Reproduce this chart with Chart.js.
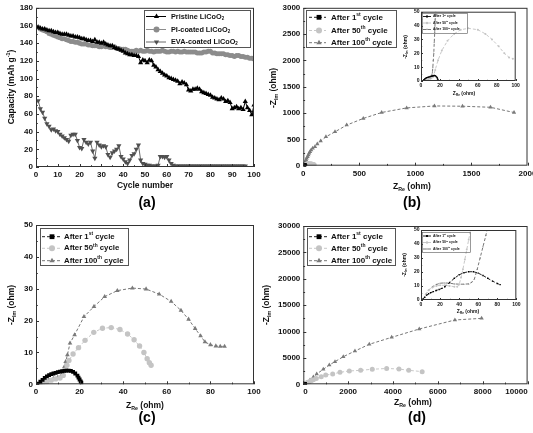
<!DOCTYPE html>
<html>
<head>
<meta charset="utf-8">
<script src="https://cdn.jsdelivr.net/npm/chart.js@4.4.1/dist/chart.umd.min.js"></script>
<style>
  body { margin: 0; width: 533px; height: 433px; position: relative; overflow: hidden; background: #fff; font-family: "Liberation Sans", Arial, sans-serif; }
  canvas { position: absolute; }
  .cap { position: absolute; font-weight: bold; font-size: 14px; transform: translate(-50%, -50%); }
</style>
</head>
<body>
<canvas id="ca"></canvas>
<canvas id="cb"></canvas>
<canvas id="cc"></canvas>
<canvas id="cd"></canvas>
<canvas id="cbi"></canvas>
<canvas id="cdi"></canvas>
<div class="cap" style="left:147px;top:202px">(a)</div>
<div class="cap" style="left:412px;top:202px">(b)</div>
<div class="cap" style="left:147px;top:417px">(c)</div>
<div class="cap" style="left:417px;top:417px">(d)</div>
<script>
const FONT = '"Liberation Sans", Arial, sans-serif';

// (a) capacity vs cycle number
const cycles = Array.from({ length: 100 }, (_, i) => i + 1);
const pristine = [
  158, 157, 156, 156, 155, 154, 154, 153, 152, 152,
  151, 150, 150, 150, 149, 148, 148, 147, 147, 146,
  145, 145, 144, 143, 143, 142, 144, 141, 141, 140,
  141, 139, 138, 137, 137, 135, 134, 133, 132, 131,
  129, 128, 127, 127, 126, 126, 125, 118, 121, 120,
  118, 121, 120, 115, 113, 110, 108, 106, 104, 103,
  101, 100, 99, 98, 97, 94, 96, 95, 93, 87,
  86, 88, 88, 89, 88, 85, 84, 83, 82, 81,
  79, 78, 77, 76, 78, 77, 74, 75, 73, 66,
  67, 68, 66, 67, 65, 74, 67, 64, 59, 70
];
const piCoated = [
  158, 156, 155, 154, 153, 151, 150, 149, 148, 147,
  146, 145, 145, 144, 143, 142, 142, 141, 141, 140,
  139, 139, 139, 138, 138, 137, 137, 137, 136, 136,
  137, 136, 136, 135, 135, 136, 134, 134, 133, 133,
  133, 132, 131, 131, 131, 132, 131, 132, 131, 131,
  132, 131, 131, 130, 131, 131, 131, 132, 131, 130,
  130, 131, 131, 130, 131, 130, 130, 131, 130, 130,
  130, 130, 130, 129, 129, 129, 130, 130, 131, 131,
  129, 129, 128, 128, 128, 128, 127, 127, 126, 126,
  125, 126, 126, 125, 125, 124, 124, 123, 123, 122
];
const evaCoated = [
  75, 66, 62, 55, 49, 46, 42, 43, 41, 40,
  37, 35, 33, 31, 29, 36, 37, 37, 30, 22,
  21, 31, 28, 26, 28, 18, 10, 28, 25, 23,
  24, 23, 14, 11, 16, 18, 20, 24, 12, 9,
  6, 4, 8, 13, 15, 20, 25, 8, 4, 3,
  2, 2, 1, 1, 1, 2, 12, 12, 11, 12,
  8, 4, 2, 1, 1, 1, 1, 1, 1, 1,
  1, 1, 1, 1, 1, 1, 1, 1, 1, 1,
  1, 1, 1, 1, 1, 1, 1, 1, 1, 1,
  1, 1, 1, 1, 1, 1
];

// (b) Nyquist, pristine
const b1Re = [2, 3, 4, 5, 6, 7, 8, 9, 10, 11, 12, 13, 14, 15, 16, 17, 17.5, 18, 18.3];
const b1Im = [0.3, 1, 1.5, 2, 2.3, 2.6, 2.8, 3, 3.2, 3.4, 3.6, 3.8, 4, 3.8, 3.3, 2.5, 1.5, 0.8, 0.3];
const b50Re = [2, 5, 8, 11, 13, 15, 18, 22, 28, 35, 42, 50, 60, 68, 75, 82, 88, 93, 97];
const b50Im = [0, 1, 1.5, 2, 3, 8, 15, 22, 29, 34, 37, 38, 37, 34, 30, 25, 20, 17, 16];
const b100Re = [2, 5, 8, 10, 11, 12, 12.5, 13, 13.5, 14, 14.5, 15, 17, 20, 25, 30, 38, 45, 52, 60, 70, 84, 104, 125, 155, 202, 283, 387, 535, 699, 922, 1170, 1420, 1670, 1880];
const b100Im = [0, 1, 1.5, 2, 3, 6, 10, 15, 20, 28, 35, 45, 62, 80, 108, 140, 170, 205, 235, 265, 297, 330, 360, 410, 468, 549, 644, 771, 898, 1011, 1098, 1135, 1130, 1110, 1010];

// (c) Nyquist, PI-coated
const c1Re = [1, 2, 3, 4, 5, 6, 7, 8, 9, 10, 11, 12, 13, 14, 15, 16, 17, 18, 19, 19.5, 20, 20.5, 20.8];
const c1Im = [0.2, 0.8, 1.4, 2, 2.5, 2.9, 3.2, 3.4, 3.6, 3.8, 4, 4.1, 4.2, 4.3, 4.3, 4.2, 3.9, 3.4, 2.7, 2.1, 1.5, 0.9, 0.5];
const c50Re = [3, 5, 7, 9, 11, 12.5, 13.5, 14.2, 15.1, 17, 19.5, 22.5, 26.5, 30.5, 34.5, 38.5, 42, 45, 47.5, 49.5, 51, 52, 52.8];
const c50Im = [0, 0.8, 1.3, 1.7, 2, 2.8, 4.5, 6, 7.5, 9.5, 11.5, 13.8, 16.3, 17.6, 17.8, 17.2, 15.8, 14, 12, 10, 8, 6.8, 6];
const c100Re = [2, 4, 6, 8, 10, 11.5, 12.5, 13, 13.6, 14.4, 15.6, 17.7, 22, 26.6, 31.5, 37.3, 44.2, 50.5, 56.5, 62, 66.5, 70, 73, 75.5, 77.5, 80, 82.5, 84.5, 86.5];
const c100Im = [0.2, 0.8, 1.3, 1.8, 2.2, 2.6, 3.5, 5.5, 7.1, 9.2, 12.9, 15.5, 21.2, 24.4, 27.5, 29.4, 30.2, 29.9, 28.3, 26, 23.2, 20.4, 17.5, 15.2, 13.3, 12.4, 12, 11.9, 11.9];

// (d) Nyquist, EVA-coated
const d1Re = [2, 4, 6, 8, 10, 13, 16, 19, 22, 25, 30, 35, 40, 45, 50, 55, 60, 65, 70, 75, 80, 83];
const d1Im = [0.5, 2, 3.5, 4.5, 5.2, 6, 6.8, 7.5, 8.3, 9.5, 12.5, 15.5, 18, 19.5, 20.2, 20.2, 19.2, 17.5, 15.5, 13.5, 11.8, 11];
const d50Re = [2, 5, 8, 12, 16, 20, 25, 30, 35, 38, 40, 42, 44, 46, 48, 50, 52, 53, 60, 80, 120, 180, 260, 350, 450, 580, 800, 1000, 1310, 1635, 2050, 2557, 3075, 3716, 4265, 4700, 5300];
const d50Im = [0.5, 4, 7, 9, 10, 10.5, 10.5, 10, 9.5, 9.5, 11, 16, 22, 29, 36, 43, 50, 53, 75, 130, 220, 330, 480, 650, 850, 1100, 1450, 1750, 1950, 2270, 2520, 2650, 2850, 3000, 2900, 2650, 2400];
const d100Re = [2, 5, 8, 12, 16, 20, 25, 30, 35, 40, 45, 50, 53, 56, 59, 62, 65, 68, 70, 150, 300, 450, 597, 891, 1159, 1413, 1783, 2304, 2941, 3940, 5170, 6760, 7950];
const d100Im = [0.5, 4, 7, 9.5, 11, 12, 12.2, 12, 11.5, 11.3, 11.3, 11.5, 12.5, 15, 22, 30, 38, 46, 52, 300, 800, 1400, 1950, 2840, 3660, 4290, 5230, 6310, 7580, 8900, 10480, 12190, 12500];

const pts = (xs, ys) => xs.map((x, i) => ({ x: x, y: ys[i] }));

function parseRich(s) {
  const out = [];
  const re = /([_^])\{([^}]*)\}|([^_^]+)/g;
  let m;
  while ((m = re.exec(s))) {
    if (m[3] !== undefined) out.push({ t: m[3], k: 0 });
    else out.push({ t: m[2], k: m[1] === '_' ? -1 : 1 });
  }
  return out;
}

function drawRich(ctx, s, x, y, size, align) {
  const segs = parseRich(s);
  let w = 0;
  segs.forEach(g => {
    ctx.font = 'bold ' + (g.k ? size * 0.62 : size) + 'px ' + FONT;
    g.w = ctx.measureText(g.t).width;
    w += g.w;
  });
  let cx = align === 'left' ? x : x - w / 2;
  ctx.textAlign = 'left';
  ctx.textBaseline = 'middle';
  segs.forEach(g => {
    ctx.font = 'bold ' + (g.k ? size * 0.62 : size) + 'px ' + FONT;
    const dy = g.k === -1 ? size * 0.3 : g.k === 1 ? -size * 0.35 : 0;
    ctx.fillText(g.t, cx, y + dy);
    cx += g.w;
  });
}

function marker(ctx, style, rot, x, y, r, color) {
  ctx.save();
  ctx.translate(x, y);
  if (rot) ctx.rotate(rot * Math.PI / 180);
  ctx.fillStyle = color;
  ctx.beginPath();
  if (style === 'circle') ctx.arc(0, 0, r, 0, Math.PI * 2);
  else if (style === 'rect') ctx.rect(-r * 0.8, -r * 0.8, r * 1.6, r * 1.6);
  else {
    ctx.moveTo(0, -r);
    ctx.lineTo(r * 0.87, r * 0.5);
    ctx.lineTo(-r * 0.87, r * 0.5);
  }
  ctx.closePath();
  ctx.fill();
  ctx.restore();
}

// frame, inward ticks, axis titles with sub/superscripts and boxed legend
const deco = {
  id: 'deco',
  afterDraw(chart, args, o) {
    const { ctx, chartArea: a, scales } = chart;
    const ox = o.off[0], oy = o.off[1];
    ctx.save();
    ctx.strokeStyle = '#333';
    ctx.lineWidth = 1;
    ctx.setLineDash([]);
    ctx.strokeRect(a.left + 0.5, a.top + 0.5, a.right - a.left - 1, a.bottom - a.top - 1);
    const tl = o.tick || 3;
    ctx.beginPath();
    const xt = scales.x.ticks, yt = scales.y.ticks;
    xt.forEach((t, i) => {
      const px = Math.round(scales.x.getPixelForValue(t.value)) + 0.5;
      ctx.moveTo(px, a.bottom); ctx.lineTo(px, a.bottom - tl);
      if (i < xt.length - 1) {
        const mx = Math.round(scales.x.getPixelForValue((t.value + xt[i + 1].value) / 2)) + 0.5;
        ctx.moveTo(mx, a.bottom); ctx.lineTo(mx, a.bottom - tl * 0.6);
      }
    });
    yt.forEach((t, i) => {
      const py = Math.round(scales.y.getPixelForValue(t.value)) + 0.5;
      ctx.moveTo(a.left, py); ctx.lineTo(a.left + tl, py);
      if (i < yt.length - 1) {
        const my = Math.round(scales.y.getPixelForValue((t.value + yt[i + 1].value) / 2)) + 0.5;
        ctx.moveTo(a.left, my); ctx.lineTo(a.left + tl * 0.6, my);
      }
    });
    ctx.stroke();

    ctx.fillStyle = '#111';
    drawRich(ctx, o.xTitle.text, o.xTitle.x - ox, o.xTitle.y - oy, o.xTitle.size);
    ctx.save();
    ctx.translate(o.yTitle.x - ox, o.yTitle.y - oy);
    ctx.rotate(-Math.PI / 2);
    drawRich(ctx, o.yTitle.text, 0, 0, o.yTitle.size);
    ctx.restore();

    const lg = o.legend;
    ctx.strokeStyle = '#555';
    ctx.lineWidth = lg.lw || 1;
    ctx.strokeRect(lg.box[0] - ox + 0.5, lg.box[1] - oy + 0.5, lg.box[2], lg.box[3]);
    chart.data.datasets.forEach((ds, i) => {
      const y = lg.rows[i] - oy;
      ctx.strokeStyle = ds.borderColor;
      ctx.lineWidth = ds.borderWidth;
      ctx.setLineDash(ds.borderDash || []);
      ctx.beginPath();
      ctx.moveTo(lg.line[0] - ox, y);
      ctx.lineTo(lg.line[1] - ox, y);
      ctx.stroke();
      ctx.setLineDash([]);
      marker(ctx, ds.pointStyle, ds.pointRotation, lg.mark - ox, y, lg.r, ds.pointBackgroundColor);
      ctx.fillStyle = '#111';
      drawRich(ctx, ds.label, lg.text - ox, y, lg.size, 'left');
    });
    ctx.restore();
  }
};

function panel(id, box, area, xr, yr, tickSize, datasets, opts) {
  const cv = document.getElementById(id);
  cv.width = box[2];
  cv.height = box[3];
  cv.style.left = box[0] + 'px';
  cv.style.top = box[1] + 'px';
  const [L, T, R, B] = area;
  const tickFont = { family: FONT, size: tickSize, weight: 'bold' };
  const plain = v => String(v);
  return new Chart(cv, {
    type: 'scatter',
    data: { datasets: datasets },
    options: {
      responsive: false,
      animation: false,
      devicePixelRatio: 1,
      layout: { padding: { left: 0, top: T - box[1], right: box[0] + box[2] - R, bottom: 0 } },
      plugins: {
        legend: { display: false },
        tooltip: { enabled: false },
        deco: Object.assign({ off: box }, opts)
      },
      scales: {
        x: {
          type: 'linear', min: xr[0], max: xr[1],
          ticks: { stepSize: xr[2], font: tickFont, color: '#111', padding: opts.pad || 3, maxRotation: 0, autoSkip: false, align: opts.xAlign || 'center', callback: plain },
          grid: { display: false, drawTicks: false },
          border: { display: false },
          afterFit: s => { s.height = box[1] + box[3] - B; }
        },
        y: {
          type: 'linear', min: yr[0], max: yr[1],
          ticks: { stepSize: yr[2], font: tickFont, color: '#111', padding: opts.pad || 3, autoSkip: false, callback: plain },
          grid: { display: false, drawTicks: false },
          border: { display: false },
          afterFit: s => { s.width = L - box[0]; }
        }
      }
    },
    plugins: [deco]
  });
}

function series(label, data, color, pointColor, style, rot, r, dash) {
  return {
    label: label,
    data: data,
    showLine: true,
    borderColor: color,
    borderWidth: 1,
    borderDash: dash,
    pointStyle: style,
    pointRotation: rot,
    pointRadius: r,
    pointBackgroundColor: pointColor,
    pointBorderWidth: 0
  };
}

function nyquist(re1, im1, re50, im50, re100, im100, r) {
  return [
    series('After 1^{st} cycle', pts(re1, im1), '#222', '#000', 'rect', 0, r, [3, 2]),
    series('After 50^{th} cycle', pts(re50, im50), '#c8c8c8', '#c4c4c4', 'circle', 0, r, [3, 2]),
    series('After 100^{th} cycle', pts(re100, im100), '#777', '#7a7a7a', 'triangle', 0, r, [3, 2])
  ];
}

// (a)
panel('ca', [0, 0, 266, 196], [36, 7.5, 254, 167], [0, 100, 10], [0, 180, 20], 8, [
  series('Pristine LiCoO_{2}', pts(cycles, pristine), '#000', '#000', 'triangle', 0, 3, []),
  series('PI-coated LiCoO_{2}', pts(cycles, piCoated), '#8c8c8c', '#8c8c8c', 'circle', 0, 2.5, []),
  series('EVA-coated LiCoO_{2}', pts(cycles.slice(0, evaCoated.length), evaCoated), '#6a6a6a', '#505050', 'triangle', 180, 3, [])
], {
  xTitle: { text: 'Cycle number', x: 145, y: 186, size: 8.5 },
  yTitle: { text: 'Capacity (mAh g^{-1})', x: 12, y: 87, size: 8.5 },
  legend: { box: [144, 10, 106, 37], rows: [16.5, 29.5, 42], line: [146, 166], mark: 156.5, text: 171, size: 7.3, r: 3 }
});

// (b)
panel('cb', [258, 0, 282, 196], [303.3, 7.3, 527.5, 165.7], [0, 2000, 500], [0, 3000, 500], 8,
  nyquist(b1Re, b1Im, b50Re, b50Im, b100Re, b100Im, 2.5), {
  xTitle: { text: 'Z_{Re} (ohm)', x: 412, y: 187, size: 8.5 },
  yTitle: { text: '-Z_{Im} (ohm)', x: 274, y: 88, size: 8.5 },
  legend: { box: [306, 10, 90, 37], rows: [17.3, 30.5, 42.7], line: [309, 326], mark: 319, text: 331, size: 8, r: 3 }
});

// (c)
panel('cc', [0, 212, 266, 200], [36, 225, 254, 384.3], [0, 100, 20], [0, 50, 10], 8,
  nyquist(c1Re, c1Im, c50Re, c50Im, c100Re, c100Im, 2.7), {
  xTitle: { text: 'Z_{Re} (ohm)', x: 145, y: 406, size: 8.5 },
  yTitle: { text: '-Z_{Im} (ohm)', x: 12, y: 305, size: 8.5 },
  legend: { box: [40, 228, 88, 37], rows: [236.7, 248.3, 260.7], line: [42, 62], mark: 52, text: 64, size: 7.8, r: 3 }
});

// (d)
panel('cd', [258, 212, 282, 200], [303.3, 226, 527.6, 384.3], [0, 10000, 2000], [0, 30000, 5000], 8,
  nyquist(d1Re, d1Im, d50Re, d50Im, d100Re, d100Im, 2.5), {
  xAlign: 'inner',
  xTitle: { text: 'Z_{Re} (ohm)', x: 413, y: 403, size: 8.5 },
  yTitle: { text: '-Z_{Im} (ohm)', x: 267, y: 305, size: 8.5 },
  legend: { box: [307, 228, 88, 37], rows: [236.7, 248.3, 260.7], line: [309, 327], mark: 319, text: 331, size: 8, r: 3 }
});

// inset of (b)
panel('cbi', [398, 6, 124, 96], [421, 11.7, 515.7, 81], [0, 100, 20], [0, 50, 10], 5,
  nyquist(b1Re, b1Im, b50Re, b50Im, b100Re, b100Im, 1), {
  pad: 1.5, tick: 2,
  xTitle: { text: 'Z_{Re} (ohm)', x: 464, y: 94, size: 5 },
  yTitle: { text: '-Z_{Im} (ohm)', x: 406, y: 47, size: 5 },
  legend: { box: [422, 13, 45, 20], rows: [16.5, 23, 29.5], line: [423, 431], mark: 427, text: 433, size: 3.5, r: 1.2, lw: 0.6 }
});

// inset of (d)
panel('cdi', [398, 224, 124, 96], [421, 230, 516.7, 300], [0, 100, 20], [0, 50, 10], 5,
  nyquist(d1Re, d1Im, d50Re, d50Im, d100Re, d100Im, 1), {
  pad: 1.5, tick: 2,
  xTitle: { text: 'Z_{Re} (ohm)', x: 468, y: 311.5, size: 5 },
  yTitle: { text: '-Z_{Im} (ohm)', x: 405, y: 265, size: 5 },
  legend: { box: [422, 232, 48, 20], rows: [236, 242.5, 249], line: [423, 431], mark: 427, text: 433, size: 3.5, r: 1.2, lw: 0.6 }
});
</script>
</body>
</html>
